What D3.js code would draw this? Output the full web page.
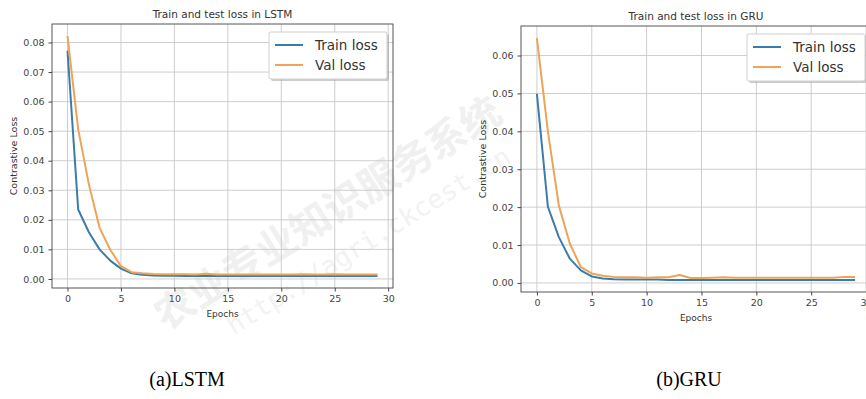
<!DOCTYPE html>
<html>
<head>
<meta charset="utf-8">
<script src="https://cdn.jsdelivr.net/npm/d3@7"></script>
<style>
  body { margin: 0; background: #fff; }
  svg text { font-family: "DejaVu Sans", sans-serif; fill: #333; }
</style>
</head>
<body>
<svg id="chart" width="866" height="399"></svg>
<script>
// epochs 0..29
const epochs = d3.range(30);

const lstmTrain = [0.0772, 0.0235, 0.0158, 0.0100, 0.0062, 0.0035, 0.0019, 0.0014, 0.0012, 0.0011,
  0.0011, 0.0010, 0.0010, 0.0010, 0.0010, 0.0010, 0.0010, 0.0010, 0.0010, 0.0010,
  0.0010, 0.0010, 0.0010, 0.0010, 0.0010, 0.0010, 0.0010, 0.0010, 0.0010, 0.0010];
const lstmVal = [0.0822, 0.0506, 0.0320, 0.0173, 0.0099, 0.0043, 0.0023, 0.0019, 0.0017, 0.0016,
  0.0016, 0.0016, 0.0015, 0.0018, 0.0015, 0.0015, 0.0015, 0.0015, 0.0015, 0.0015,
  0.0015, 0.0015, 0.0016, 0.0015, 0.0015, 0.0016, 0.0015, 0.0015, 0.0015, 0.0015];

const gruTrain = [0.0499, 0.0201, 0.0121, 0.0064, 0.0033, 0.0017, 0.0012, 0.0010, 0.0009, 0.0009,
  0.0009, 0.0009, 0.0008, 0.0008, 0.0008, 0.0008, 0.0008, 0.0008, 0.0008, 0.0008,
  0.0008, 0.0008, 0.0008, 0.0008, 0.0008, 0.0008, 0.0008, 0.0008, 0.0008, 0.0008];
const gruVal = [0.0646, 0.0400, 0.0204, 0.0104, 0.0042, 0.0025, 0.0019, 0.0016, 0.0015, 0.0015,
  0.0014, 0.0015, 0.0015, 0.0021, 0.0013, 0.0013, 0.0014, 0.0015, 0.0014, 0.0014,
  0.0014, 0.0014, 0.0014, 0.0014, 0.0014, 0.0014, 0.0014, 0.0014, 0.0016, 0.0016];

const xTicks = [0, 5, 10, 15, 20, 25, 30];
const lstmYTicks = [0.00, 0.01, 0.02, 0.03, 0.04, 0.05, 0.06, 0.07, 0.08];
const gruYTicks = [0.00, 0.01, 0.02, 0.03, 0.04, 0.05, 0.06];
const seriesNames = ["Train loss", "Val loss"];
const colors = ["#3a7cab", "#eda456"];

const svg = d3.select("#chart");
svg.append("rect").attr("width", 866).attr("height", 399).attr("fill", "#fff");

// faint watermark
const wm = svg.append("g").attr("transform", "translate(335,225) rotate(-32)");
wm.append("text").attr("x", 0).attr("y", 0).attr("text-anchor", "middle")
  .style("font-family", "'Noto Sans CJK SC', sans-serif").style("font-size", "40px")
  .style("font-weight", "bold").style("fill", "#f0f0f0").text("农业专业知识服务系统");
wm.append("text").attr("x", 20).attr("y", 40).attr("text-anchor", "middle")
  .style("font-family", "'DejaVu Sans Mono', monospace").style("font-size", "26px")
  .style("fill", "#f2f2f2").text("http://agri.ckcest.cn");

function drawPanel(opt) {
  const { left, right, top, bottom, train, val, yTicks, title, caption, capX } = opt;
  const all = train.concat(val);
  const yMin = d3.min(all), yMax = d3.max(all);
  const pad = (yMax - yMin) * 0.05;

  const x = d3.scaleLinear().domain([-1.45, 30.45]).range([left, right]);
  const y = d3.scaleLinear().domain([yMin - pad, yMax + pad]).range([bottom, top]);

  const g = svg.append("g");

  // grid
  g.append("g").selectAll("line").data(xTicks).enter().append("line")
    .attr("x1", d => x(d)).attr("x2", d => x(d)).attr("y1", top).attr("y2", bottom)
    .attr("stroke", "#c8c8c8").attr("stroke-width", 0.9);
  g.append("g").selectAll("line").data(yTicks).enter().append("line")
    .attr("x1", left).attr("x2", right).attr("y1", d => y(d)).attr("y2", d => y(d))
    .attr("stroke", "#c8c8c8").attr("stroke-width", 0.9);

  // lines
  const line = d3.line().x((d, i) => x(epochs[i])).y(d => y(d));
  [train, val].forEach((s, k) => {
    g.append("path").datum(s).attr("d", line).attr("fill", "none")
      .attr("stroke", colors[k]).attr("stroke-width", 2).attr("stroke-linejoin", "round");
  });

  // axes
  const xAxis = g.append("g").attr("transform", "translate(0," + bottom + ")")
    .call(d3.axisBottom(x).tickValues(xTicks).tickFormat(d3.format("d")).tickSizeOuter(0).tickSize(3.5).tickPadding(4));
  const yAxis = g.append("g").attr("transform", "translate(" + left + ",0)")
    .call(d3.axisLeft(y).tickValues(yTicks).tickFormat(d3.format(".2f")).tickSizeOuter(0).tickSize(3.5).tickPadding(4));
  [xAxis, yAxis].forEach(a => {
    a.select(".domain").remove();
    a.selectAll("line").attr("stroke", "#444");
    a.selectAll("text").style("font-size", "9.5px").style("fill", "#444");
  });

  // frame
  g.append("rect").attr("x", left).attr("y", top).attr("width", right - left).attr("height", bottom - top)
    .attr("fill", "none").attr("stroke", "#444").attr("stroke-width", 0.9);

  // labels
  const cx = (left + right) / 2;
  g.append("text").attr("x", cx).attr("y", top - 6).attr("text-anchor", "middle")
    .style("font-size", "10.5px").text(title);
  g.append("text").attr("x", cx).attr("y", bottom + 29).attr("text-anchor", "middle")
    .style("font-size", "9px").text("Epochs");
  g.append("text").attr("transform", "translate(" + (left - 35) + "," + ((top + bottom) / 2) + ") rotate(-90)")
    .attr("text-anchor", "middle").style("font-size", "9.5px").text("Contrastive Loss");

  // legend
  const lx = right - 124, ly = top + 8;
  const leg = g.append("g").attr("transform", "translate(" + lx + "," + ly + ")");
  leg.append("rect").attr("x", 2).attr("y", 2).attr("width", 118).attr("height", 47).attr("rx", 2)
    .attr("fill", "#999").attr("opacity", 0.5);
  leg.append("rect").attr("x", 0).attr("y", 0).attr("width", 118).attr("height", 47).attr("rx", 2)
    .attr("fill", "#fff").attr("stroke", "#d0d0d0");
  seriesNames.forEach((n, k) => {
    const yy = 13 + k * 20;
    leg.append("line").attr("x1", 6).attr("x2", 34).attr("y1", yy).attr("y2", yy)
      .attr("stroke", colors[k]).attr("stroke-width", 2);
    leg.append("text").attr("x", 46).attr("y", yy + 5).style("font-size", "13.5px").text(n);
  });

  // caption
  svg.append("text").attr("x", capX).attr("y", 386).attr("text-anchor", "middle")
    .style("font-family", "'Liberation Serif', 'Times New Roman', serif").style("font-size", "20px")
    .style("fill", "#000").text(caption);
}

drawPanel({ left: 52, right: 393, top: 24, bottom: 288, train: lstmTrain, val: lstmVal,
  yTicks: lstmYTicks, title: "Train and test loss in LSTM", caption: "(a)LSTM", capX: 187 });
drawPanel({ left: 521, right: 871, top: 26, bottom: 292, train: gruTrain, val: gruVal,
  yTicks: gruYTicks, title: "Train and test loss in GRU", caption: "(b)GRU", capX: 689 });
</script>
</body>
</html>
